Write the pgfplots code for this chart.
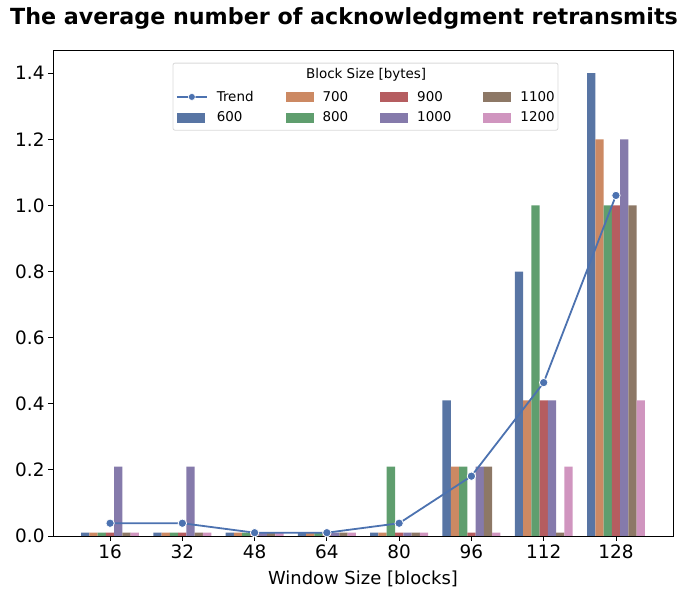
\documentclass[border=0pt]{standalone}
\usepackage{pgfplots}
\usepackage{pgfplotstable}
\pgfplotsset{compat=1.18}
\usepackage{fontspec}
\setmainfont{DejaVu Sans}
\definecolor{c600}{HTML}{5875A4}
\definecolor{c700}{HTML}{CC8963}
\definecolor{c800}{HTML}{5F9E6E}
\definecolor{c900}{HTML}{B55D60}
\definecolor{c1000}{HTML}{857AAB}
\definecolor{c1100}{HTML}{8D7866}
\definecolor{c1200}{HTML}{D095BF}
\definecolor{trend}{HTML}{4C72B0}
\pgfplotstableread{
x a b c d e f g t
0 0.01 0.01 0.01 0.01 0.21 0.01 0.01 0.0386
1 0.01 0.01 0.01 0.01 0.21 0.01 0.01 0.0386
2 0.01 0.01 0.01 0.01 0.01 0.01 0.01 0.01
3 0.01 0.01 0.01 0.01 0.01 0.01 0.01 0.01
4 0.01 0.01 0.21 0.01 0.01 0.01 0.01 0.0386
5 0.41 0.21 0.21 0.01 0.21 0.21 0.01 0.181
6 0.80 0.41 1.00 0.41 0.41 0.01 0.21 0.464
7 1.40 1.20 1.00 1.00 1.20 1.00 0.41 1.03
}\data
\pgfplotsset{
  mybar/.style={legend image code/.code={\fill[##1, draw=none] (0bp,-5bp) rectangle (28bp,5bp);}},
  mytrend/.style={legend image code/.code={\draw[mark repeat=2,mark phase=2,##1] plot coordinates {(0bp,0bp) (15bp,0bp) (30bp,0bp)};}},
  barst/.style={ybar, bar width=0.114286, draw=none, forget plot},
}
\begin{document}
\begin{tikzpicture}
\begin{axis}[
  at={(53bp,63bp)}, anchor=south west,
  scale only axis, width=620bp, height=486bp,
  xmin=-0.79, xmax=7.79, ymin=0, ymax=1.47,
  xtick={0,...,7}, xticklabels={16,32,48,64,80,96,112,128},
  ytick={0,0.2,...,1.4},
  yticklabel style={/pgf/number format/.cd, fixed, fixed zerofill, precision=1},
  /pgf/number format/assume math mode=true,
  tick label style={font=\fontsize{18.5}{21}\selectfont},
  xlabel={Window Size [blocks]},
  xlabel style={font=\fontsize{18}{21}\selectfont, yshift=-6bp},
  tick align=outside, xtick pos=bottom, ytick pos=left,
  major tick length=5bp,
  every tick/.style={black, line width=0.8bp},
  axis line style={line width=0.8bp},
  legend columns=4,
  legend cell align=left,
  legend style={draw=none, fill=none, at={(rel axis cs:0.198,0.92)}, anchor=north west,
    inner sep=0pt, font=\fontsize{13.5}{15}\selectfont,
    nodes={inner sep=2bp},
    /tikz/every even column/.append style={column sep=30bp},
    /tikz/every odd column/.append style={column sep=7bp},
    row sep=5bp},
]
\addplot[barst, bar shift=-0.342857, fill=c600] table[x=x,y=a]{\data};
\addplot[barst, bar shift=-0.228571, fill=c700] table[x=x,y=b]{\data};
\addplot[barst, bar shift=-0.114286, fill=c800] table[x=x,y=c]{\data};
\addplot[barst, bar shift=0, fill=c900] table[x=x,y=d]{\data};
\addplot[barst, bar shift=0.114286, fill=c1000] table[x=x,y=e]{\data};
\addplot[barst, bar shift=0.228571, fill=c1100] table[x=x,y=f]{\data};
\addplot[barst, bar shift=0.342857, fill=c1200] table[x=x,y=g]{\data};
\addplot[color=trend, line width=1.8bp, mark=*, mark size=4.2bp, mark options={fill=trend, draw=white, line width=0.8bp}, forget plot] table[x=x,y=t]{\data};
\draw[draw=black!15, fill=white, fill opacity=0.8, rounded corners=2bp, line width=0.8bp] (rel axis cs:0.1935,0.973) rectangle (rel axis cs:0.8145,0.835);
\node[font=\fontsize{13.5}{15}\selectfont] at (rel axis cs:0.505,0.948) {Block Size [bytes]};
\addlegendimage{mytrend, color=trend, line width=1.8bp, mark=*, mark size=3.5bp, mark options={fill=trend, draw=white, line width=0.6bp}}
\addlegendentry{Trend}
\addlegendimage{mybar, fill=c700}\addlegendentry{700}
\addlegendimage{mybar, fill=c900}\addlegendentry{900}
\addlegendimage{mybar, fill=c1100}\addlegendentry{1100}
\addlegendimage{mybar, fill=c600}\addlegendentry{600}
\addlegendimage{mybar, fill=c800}\addlegendentry{800}
\addlegendimage{mybar, fill=c1000}\addlegendentry{1000}
\addlegendimage{mybar, fill=c1200}\addlegendentry{1200}
\end{axis}
\node[font=\bfseries\fontsize{22.3}{26}\selectfont] at (344bp,581bp) {The average number of acknowledgment retransmits};
\pgfresetboundingbox
\useasboundingbox (0bp,0bp) rectangle (689bp,599bp);
\end{tikzpicture}
\end{document}
